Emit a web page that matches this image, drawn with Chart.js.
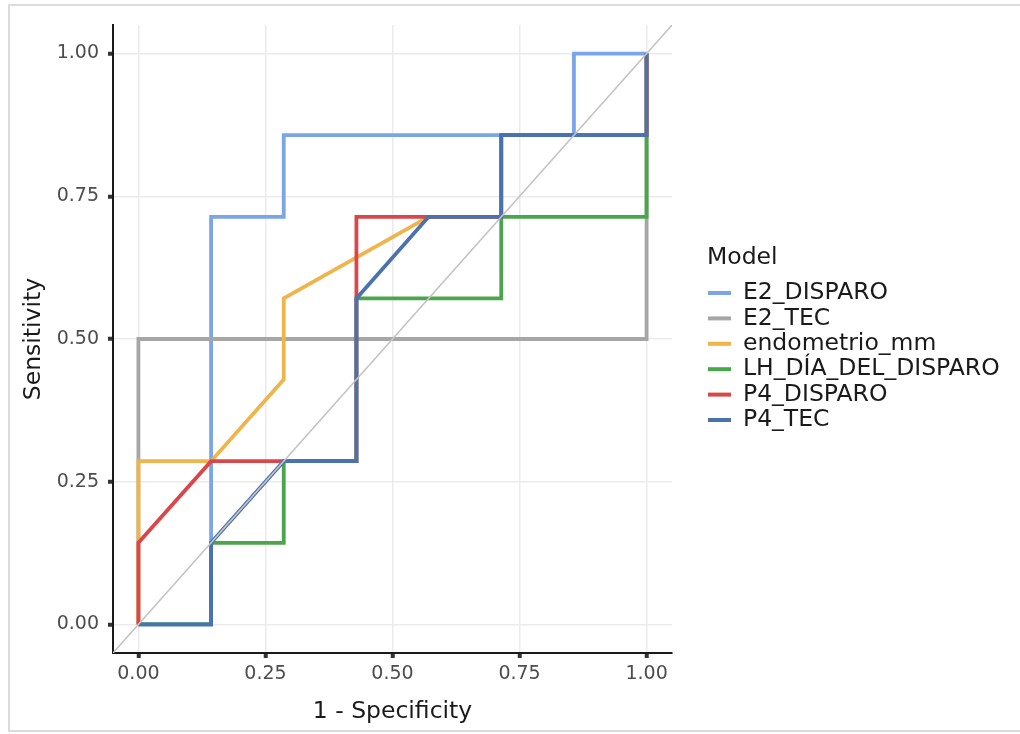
<!DOCTYPE html>
<html>
<head>
<meta charset="utf-8">
<script src="https://cdn.jsdelivr.net/npm/chart.js@4.4.1/dist/chart.umd.min.js"></script>
<style>
  html, body { margin: 0; padding: 0; background: #fff; }
  #wrap { position: relative; width: 1020px; height: 734px; overflow: hidden; }
  #frame { position: absolute; left: 8px; top: 4px; width: 1030px; height: 728px;
           border: 2px solid #dcdcdc; box-sizing: border-box; }
  #rocChart { position: absolute; left: 0; top: 0; }
</style>
</head>
<body>
<div id="wrap">
  <div id="frame"></div>
  <canvas id="rocChart" width="1020" height="734"></canvas>
</div>
<script>
// Daten: ROC-Kurven (x = 1 - Spezifität, y = Sensitivität)
const modelNames = ["E2_DISPARO", "E2_TEC", "endometrio_mm", "LH_DÍA_DEL_DISPARO", "P4_DISPARO", "P4_TEC"];
const modelColors = ["#7aa6e8", "#a6a6a6", "#efb44a", "#4aa64a", "#d9474a", "#4a72b0"];

const e2DisparoX = [0, 0.143, 0.143, 0.286, 0.286, 0.857, 0.857, 1];
const e2DisparoY = [0, 0, 0.714, 0.714, 0.857, 0.857, 1, 1];

const e2TecX = [0, 0, 1, 1];
const e2TecY = [0, 0.5, 0.5, 1];

const endometrioX = [0, 0, 0.143, 0.286, 0.286, 0.571, 0.714, 0.714, 1, 1];
const endometrioY = [0, 0.286, 0.286, 0.429, 0.571, 0.714, 0.714, 0.857, 0.857, 1];

const lhX = [0, 0.143, 0.143, 0.286, 0.286, 0.429, 0.429, 0.714, 0.714, 1, 1];
const lhY = [0, 0, 0.143, 0.143, 0.286, 0.286, 0.571, 0.571, 0.714, 0.714, 1];

const p4DisparoX = [0, 0, 0.143, 0.429, 0.429, 0.571, 0.714, 0.714, 1, 1];
const p4DisparoY = [0, 0.143, 0.286, 0.286, 0.714, 0.714, 0.714, 0.857, 0.857, 1];

const p4TecX = [0, 0.143, 0.143, 0.286, 0.429, 0.429, 0.571, 0.714, 0.714, 1, 1];
const p4TecY = [0, 0, 0.143, 0.286, 0.286, 0.571, 0.714, 0.714, 0.857, 0.857, 1];

// Diagonale (Zufallslinie) über das ganze Panel
const diagX = [-0.05, 1.05];
const diagY = [-0.05, 1.05];

const tickVals = [0, 0.25, 0.5, 0.75, 1];

const curvesX = [e2DisparoX, e2TecX, endometrioX, lhX, p4DisparoX, p4TecX];
const curvesY = [e2DisparoY, e2TecY, endometrioY, lhY, p4DisparoY, p4TecY];

function toPoints(xs, ys) {
    return xs.map((x, i) => ({ x: x, y: ys[i] }));
}

const datasets = modelNames.map((name, i) => ({
    label: name,
    data: toPoints(curvesX[i], curvesY[i]),
    borderColor: modelColors[i],
    backgroundColor: modelColors[i],
    borderWidth: 3.8,
    showLine: true,
    pointRadius: 0,
    tension: 0,
    order: modelNames.length - i   // spätere Modelle oben zeichnen
}));

datasets.push({
    label: "diag",
    data: toPoints(diagX, diagY),
    borderColor: "#c4c4c4",
    borderWidth: 1.5,
    showLine: true,
    pointRadius: 0,
    order: 0
});

// Legende im ggplot-Stil selbst zeichnen
const ggLegend = {
    id: "ggLegend",
    afterDraw(chart) {
        const ctx = chart.ctx;
        ctx.save();
        ctx.textBaseline = "middle";
        ctx.textAlign = "left";
        ctx.fillStyle = "#1a1a1a";
        ctx.font = "23.5px 'DejaVu Sans'";
        ctx.fillText("Model", 707, 258);
        modelNames.forEach((name, i) => {
            const y = 293 + i * 25.4;
            ctx.strokeStyle = modelColors[i];
            ctx.lineWidth = 4;
            ctx.lineCap = "butt";
            ctx.beginPath();
            ctx.moveTo(708, y);
            ctx.lineTo(731, y);
            ctx.stroke();
            ctx.fillStyle = "#1a1a1a";
            ctx.fillText(name, 743, y);
        });
        ctx.restore();
    }
};

Chart.defaults.font.family = "'DejaVu Sans'";

function fixTicks(scale) {
    scale.ticks = tickVals.map(v => ({ value: v }));
}

new Chart(document.getElementById("rocChart"), {
    type: "scatter",
    data: { datasets: datasets },
    plugins: [ggLegend],
    options: {
        responsive: false,
        animation: false,
        layout: { padding: { top: 25, right: 348, left: 0, bottom: 0 } },
        plugins: {
            legend: { display: false },
            tooltip: { enabled: false }
        },
        scales: {
            x: {
                type: "linear",
                min: -0.05,
                max: 1.05,
                afterBuildTicks: fixTicks,
                afterFit: s => { s.height = 81; },
                grid: { color: "#ebebeb", lineWidth: 1.5, tickColor: "#333333", tickLength: 5, tickWidth: 4 },
                border: { display: true, color: "#1a1a1a", width: 2 },
                ticks: { color: "#4d4d4d", font: { size: 19 }, padding: 5, maxRotation: 0,
                         callback: v => v.toFixed(2) },
                title: { display: true, text: "1 - Specificity", color: "#1a1a1a",
                         font: { size: 23.5 }, padding: { top: 0, bottom: 8 } }
            },
            y: {
                type: "linear",
                min: -0.05,
                max: 1.05,
                afterBuildTicks: fixTicks,
                afterFit: s => { s.width = 113; },
                grid: { color: "#ebebeb", lineWidth: 1.5, tickColor: "#333333", tickLength: 5, tickWidth: 4 },
                border: { display: true, color: "#1a1a1a", width: 2 },
                ticks: { color: "#4d4d4d", font: { size: 19 }, padding: 9,
                         callback: v => v.toFixed(2) },
                title: { display: true, text: "Sensitivity", color: "#1a1a1a",
                         font: { size: 23.5 }, padding: { top: 20, bottom: 0 } }
            }
        }
    }
});
</script>
</body>
</html>
